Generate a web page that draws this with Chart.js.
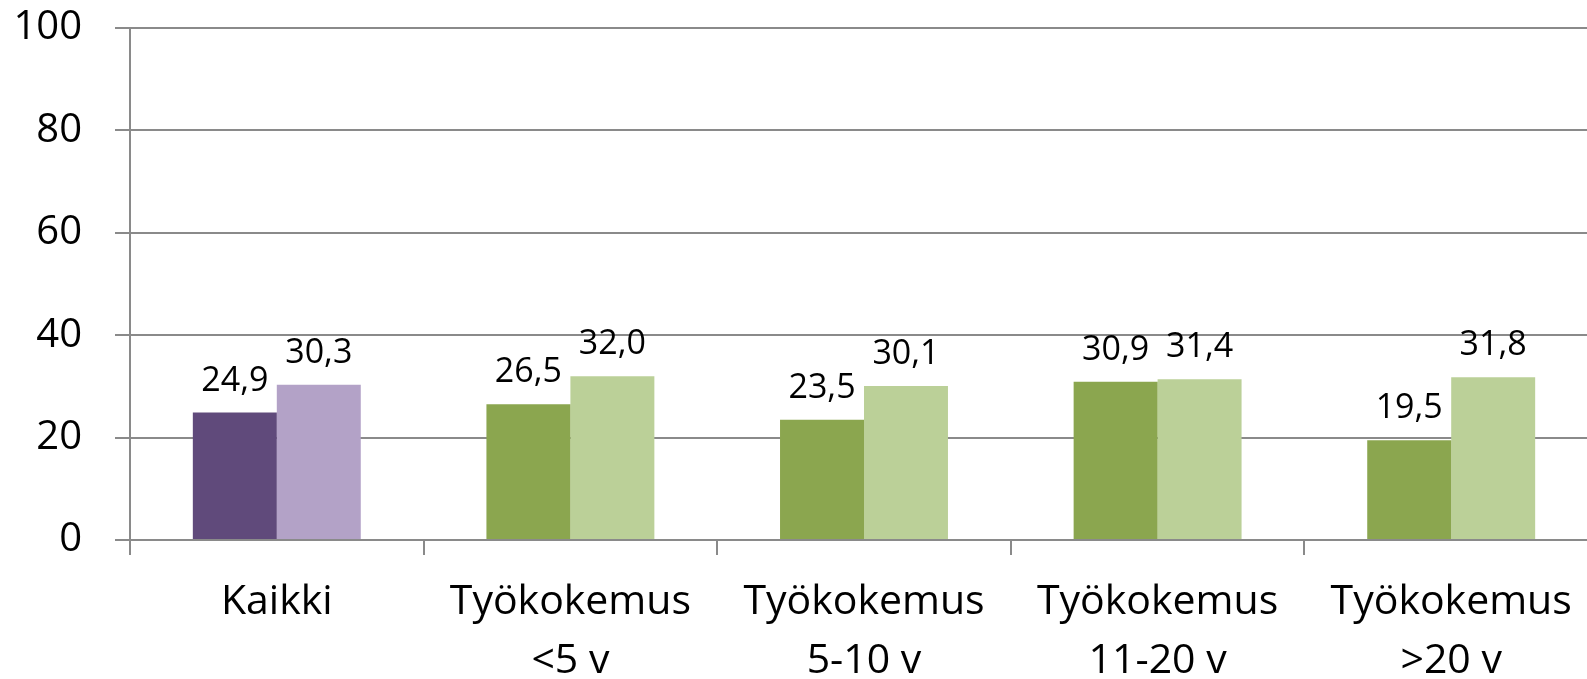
<!DOCTYPE html>
<html>
<head>
<meta charset="utf-8">
<script src="https://cdn.jsdelivr.net/npm/chart.js@4"></script>
<style>
  html, body { margin: 0; padding: 0; background: #fff; overflow: hidden; }
  #wrap { position: relative; width: 1600px; height: 679px; }
</style>
</head>
<body>
<div id="wrap"><canvas id="chart"></canvas></div>
<script>
// Chart values
const categories = [
  "Kaikki",
  ["Työkokemus", "<5 v"],
  ["Työkokemus", "5-10 v"],
  ["Työkokemus", "11-20 v"],
  ["Työkokemus", ">20 v"]
];
const seriesA = [24.9, 26.5, 23.5, 30.9, 19.5];
const seriesB = [30.3, 32.0, 30.1, 31.4, 31.8];
const yMin = 0;
const yMax = 100;
const yStep = 20;

// Colours: first group purple, the rest green
const darkColors = ["#604A7B", "#8BA64F", "#8BA64F", "#8BA64F", "#8BA64F"];
const lightColors = ["#B3A2C7", "#BBD098", "#BBD098", "#BBD098", "#BBD098"];
const axisGray = "#8a8a8a";

function fmt(v) {
  return v.toFixed(1).replace(".", ",");
}

// Draws the value above each bar (no datalabels plugin available offline)
const valueLabels = {
  id: "valueLabels",
  afterDatasetsDraw(chart) {
    const ctx = chart.ctx;
    ctx.save();
    ctx.font = '34px "Open Sans", sans-serif';
    ctx.fillStyle = "#000";
    ctx.textAlign = "center";
    ctx.textBaseline = "alphabetic";
    chart.data.datasets.forEach((ds, i) => {
      const meta = chart.getDatasetMeta(i);
      meta.data.forEach((bar, j) => {
        ctx.fillText(fmt(ds.data[j]), bar.x, bar.y - 22);
      });
    });
    ctx.restore();
  }
};

new Chart(document.getElementById("chart"), {
  type: "bar",
  data: {
    labels: categories,
    datasets: [
      {
        data: seriesA,
        backgroundColor: darkColors,
        borderWidth: 0,
        categoryPercentage: 0.572,
        barPercentage: 1
      },
      {
        data: seriesB,
        backgroundColor: lightColors,
        borderWidth: 0,
        categoryPercentage: 0.572,
        barPercentage: 1
      }
    ]
  },
  options: {
    responsive: true,
    maintainAspectRatio: false,
    animation: false,
    layout: { padding: { top: 28, right: 2, left: 0, bottom: 0 } },
    plugins: {
      legend: { display: false },
      tooltip: { enabled: false }
    },
    scales: {
      x: {
        grid: {
          offset: true,
          drawOnChartArea: false,
          drawTicks: true,
          tickLength: 15,
          color: axisGray,
          lineWidth: 2
        },
        border: { color: axisGray, width: 2 },
        ticks: {
          color: "#000",
          padding: 18,
          maxRotation: 0,
          autoSkip: false,
          font: { family: "'Open Sans', sans-serif", size: 41, lineHeight: 1.44 }
        },
        afterFit(scale) {
          scale.height = 139;
          scale.paddingTop = 0;
          scale.paddingBottom = 0;
        }
      },
      y: {
        min: yMin,
        max: yMax,
        grid: {
          color: axisGray,
          lineWidth: 2,
          drawTicks: true,
          tickLength: 15
        },
        border: { color: axisGray, width: 2 },
        ticks: {
          stepSize: yStep,
          color: "#000",
          padding: 33,
          font: { family: "'Open Sans', sans-serif", size: 40 }
        },
        afterFit(scale) {
          scale.width = 130;
          scale.paddingTop = 0;
          scale.paddingBottom = 0;
        }
      }
    }
  },
  plugins: [valueLabels]
});
</script>
</body>
</html>
